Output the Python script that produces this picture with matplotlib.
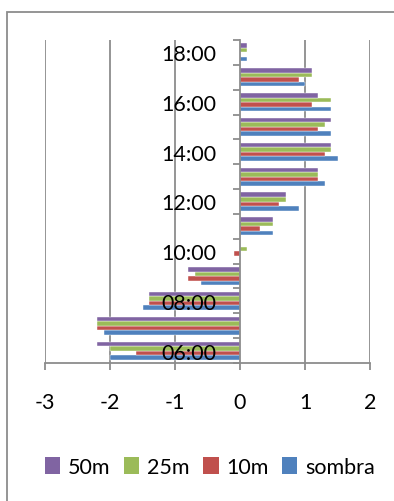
import numpy as np
import matplotlib
matplotlib.use("Agg")
from matplotlib import pyplot as plt
from matplotlib.patches import Rectangle, Patch

#---------------------- DATA
hours = ['06:00', '07:00', '08:00', '09:00', '10:00', '11:00', '12:00',
         '13:00', '14:00', '15:00', '16:00', '17:00', '18:00']
sombra = [-2.0, -2.1, -1.5, -0.6, 0.0, 0.5, 0.9, 1.3, 1.5, 1.4, 1.4, 1.0, 0.1]
m10 = [-1.6, -2.2, -1.4, -0.8, -0.1, 0.3, 0.6, 1.2, 1.3, 1.2, 1.1, 0.9, 0.0]
m25 = [-2.0, -2.2, -1.4, -0.7, 0.1, 0.5, 0.7, 1.2, 1.4, 1.3, 1.4, 1.1, 0.1]
m50 = [-2.2, -2.2, -1.4, -0.8, 0.0, 0.5, 0.7, 1.2, 1.4, 1.4, 1.2, 1.1, 0.1]

series = [('sombra', sombra, '#4F81BD'),
          ('10m', m10, '#C0504D'),
          ('25m', m25, '#9BBB59'),
          ('50m', m50, '#8064A2')]

GRAY = '#8C8C8C'
FS = 15.5
plt.rcParams['font.family'] = ['Lato', 'DejaVu Sans']

fig = plt.figure(figsize=(3.94, 5.02), dpi=100)
ax = fig.add_axes([45 / 394, 1 - 364 / 502, 325 / 394, 323 / 502])

# outer chart frame (runs off the right and bottom edges)
fig.patches.append(Rectangle((7 / 394, -0.5), 2, 1 - 13 / 502 + 0.5,
                             transform=fig.transFigure, fill=False,
                             edgecolor=GRAY, lw=1.3, clip_on=False))

y = np.arange(len(hours))
bar_h = 0.182
for i, (name, vals, col) in enumerate(series):
    offs = (i - 1.5) * bar_h
    ax.barh(y + offs, vals, height=bar_h, color=col, label=name,
            edgecolor='white', linewidth=0.3, zorder=2)

ax.set_xlim(-3, 2)
ax.set_ylim(-0.5, len(hours) - 0.5)

xt = list(range(-3, 3))
ax.set_xticks(xt)
ax.set_xticklabels([str(v) for v in xt])
# gridlines behind the bars, tick labels on top of them
for v in xt:
    if v != 0:
        ax.axvline(v, color=GRAY, lw=1.3, zorder=0)
ax.set_axisbelow(False)

ax.spines['left'].set_position(('data', 0))
for s in ['top', 'right']:
    ax.spines[s].set_visible(False)
for s in ['left', 'bottom']:
    ax.spines[s].set_color(GRAY)
    ax.spines[s].set_linewidth(1.3)

ax.set_yticks(y[::2])
ax.set_yticklabels(hours[::2])
ax.set_yticks(np.arange(-0.5, len(hours)), minor=True)
ax.tick_params(axis='y', which='major', length=0, pad=17, labelsize=FS)
ax.tick_params(axis='y', which='minor', length=5, color=GRAY, width=1.3)
ax.tick_params(axis='x', length=5, color=GRAY, width=1.3, pad=16,
               labelsize=FS)

handles = [Patch(facecolor=c, label=n) for n, _, c in reversed(series)]
fig.legend(handles=handles, loc='center', ncol=4,
           bbox_to_anchor=(0.533, 1 - 468 / 502), frameon=False,
           fontsize=FS, handlelength=0.7, handleheight=0.85,
           handletextpad=0.35, columnspacing=0.65)

fig.savefig('out.png', dpi=100)
